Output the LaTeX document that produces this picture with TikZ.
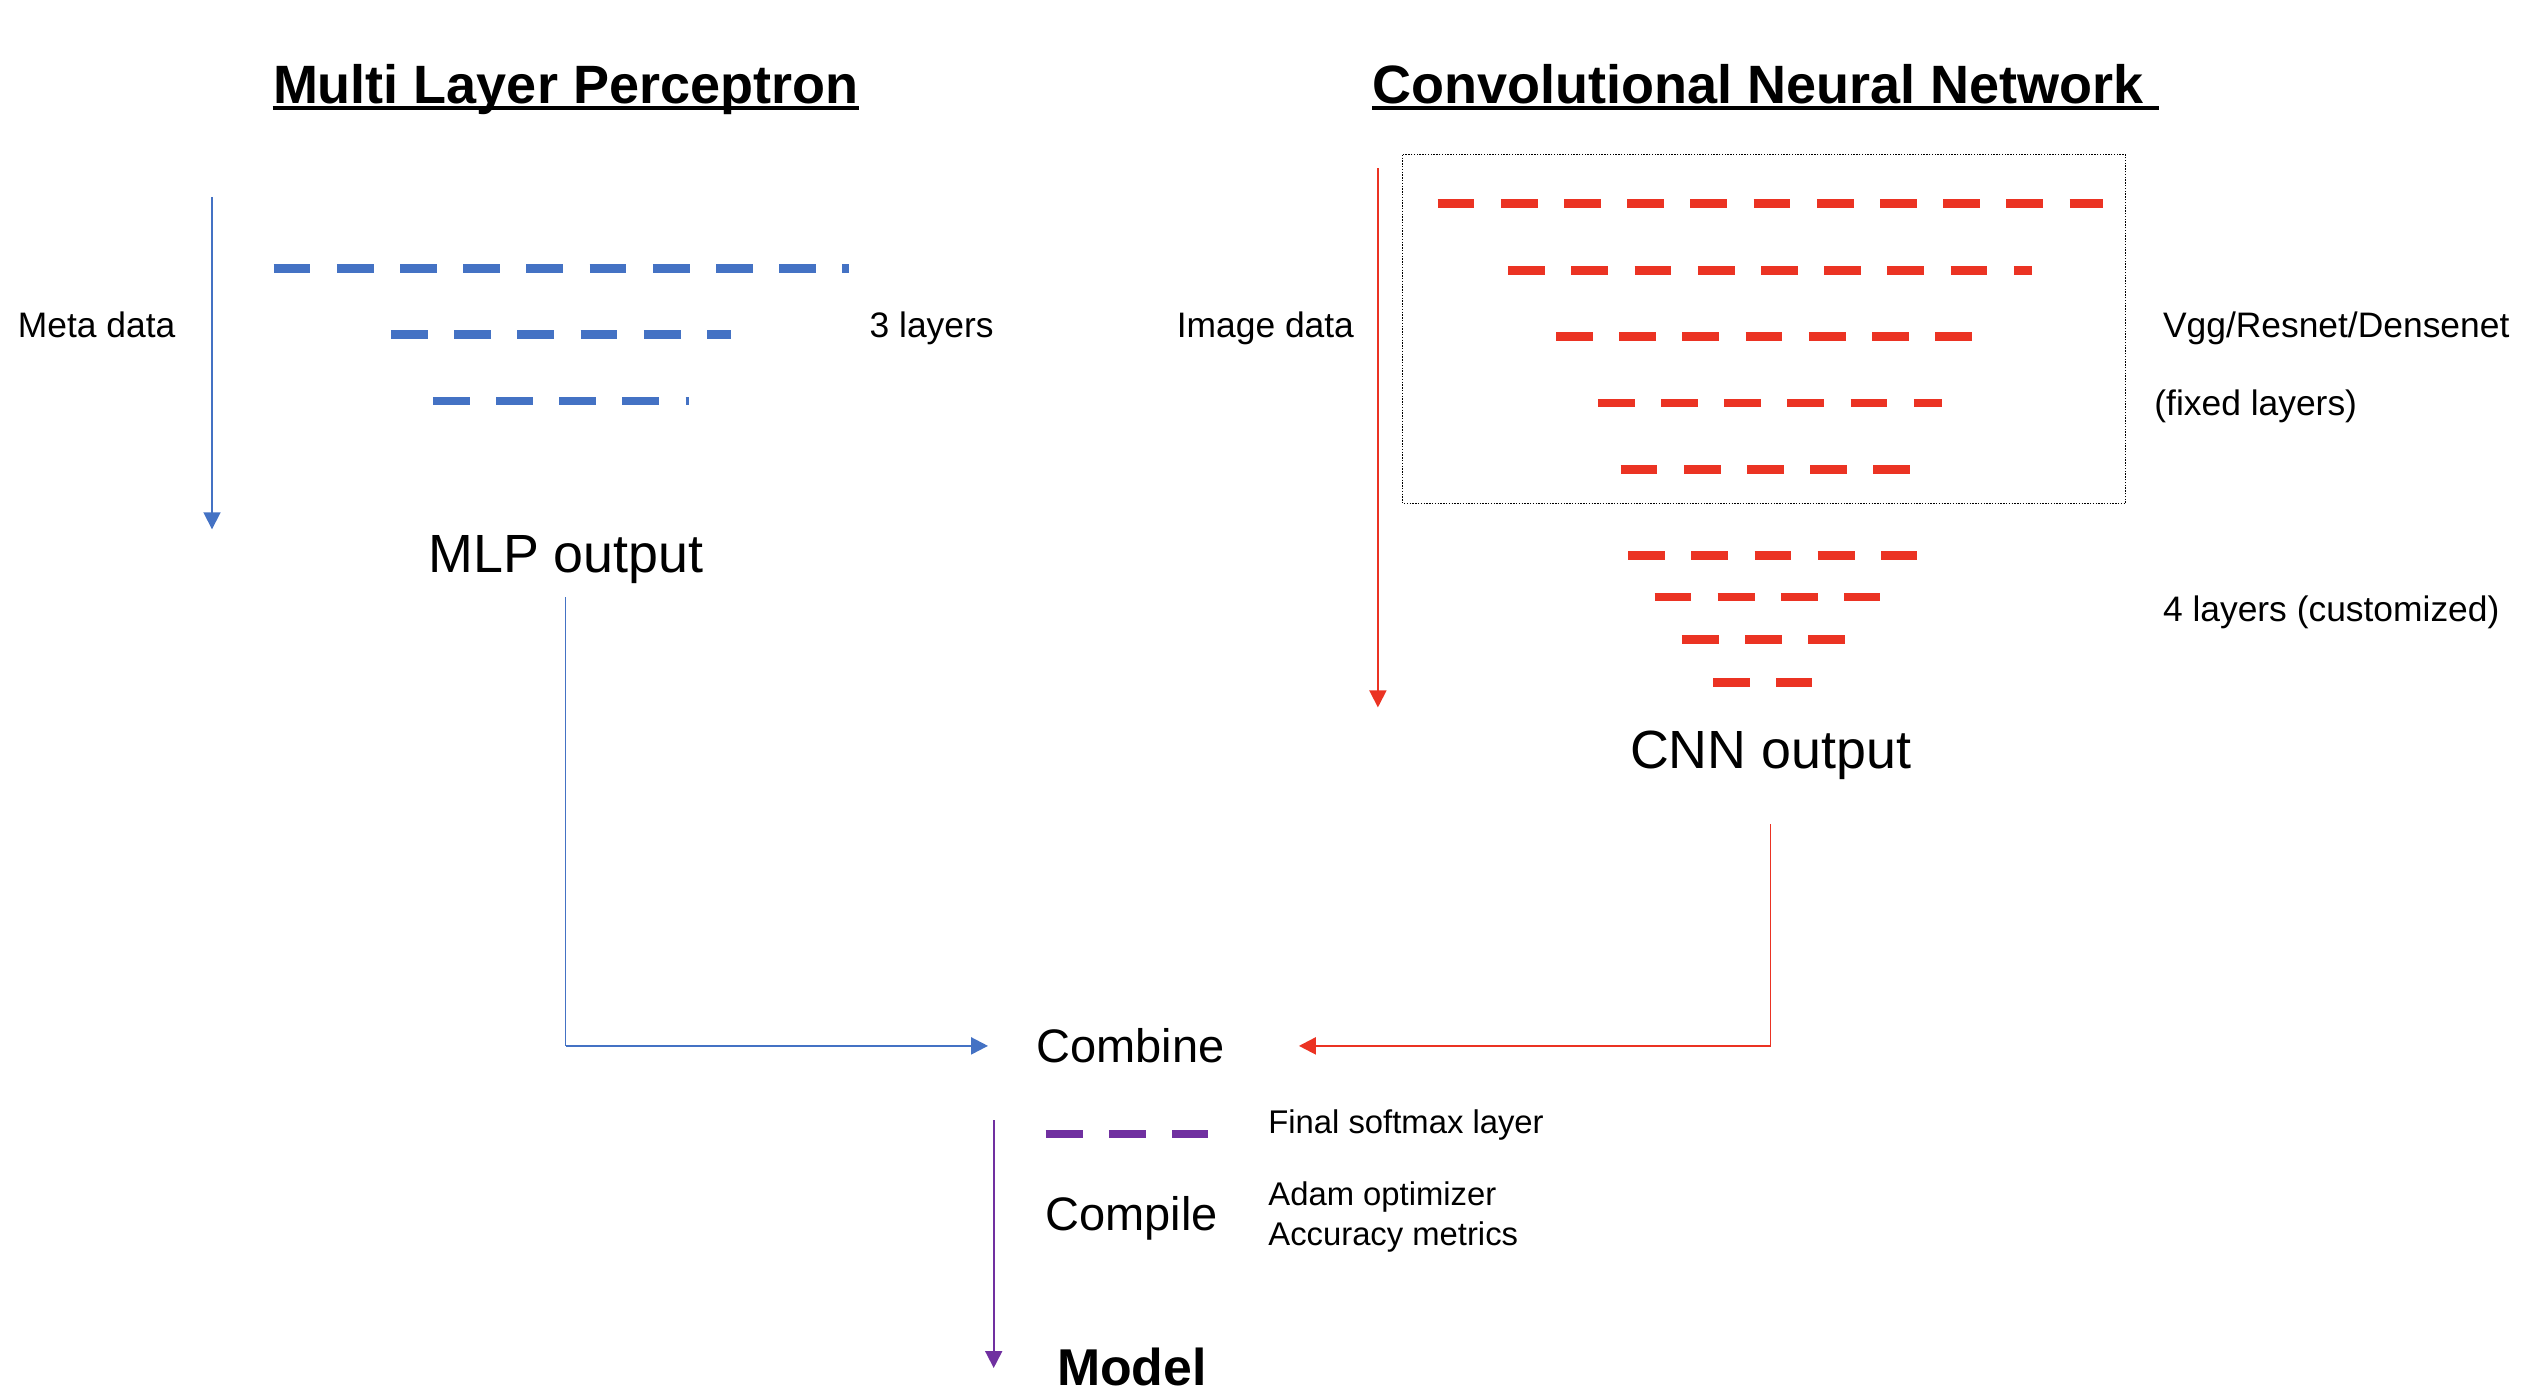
\documentclass[tikz,border=0pt]{standalone}
\usepackage{fontspec}
\setmainfont{Liberation Sans}
\usepackage{xcolor}
\usetikzlibrary{arrows.meta, positioning}

\definecolor{mlpblue}{HTML}{4472C4}
\definecolor{cnnred}{HTML}{EB3323}
\definecolor{headpurple}{HTML}{7030A0}

\tikzset{
  plain/.style={inner sep=0pt, anchor=base west},
  heading/.style={plain, font=\fontsize{27}{30}\selectfont\bfseries},
  note/.style={plain, font=\fontsize{17.7}{20}\selectfont},
  smallnote/.style={plain, font=\fontsize{16.4}{20}\selectfont},
  outtext/.style={plain, font=\fontsize{26.9}{30}\selectfont},
  stagetext/.style={plain, font=\fontsize{23.5}{28}\selectfont},
  dashlayer/.style={line width=4.4pt, dash pattern=on 18.4pt off 13.2pt},
  flow/.style={line width=0.9pt, ->},
}

\begin{document}
\begin{tikzpicture}[x=0.5pt, y=-0.5pt, >={Triangle[length=8.5pt, width=8.5pt]}]
    \useasboundingbox (0,0) rectangle (2530,1400);

    % titles
    \node[heading] (mlptitle) at (272.6,103.5) {Multi Layer Perceptron};
    \node[heading] (cnntitle) at (1371.9,103.5) {Convolutional Neural Network};
    \draw[line width=1.8pt] ([yshift=-2.3pt]mlptitle.base west) -- ([yshift=-2.3pt]mlptitle.base east);
    \draw[line width=1.8pt] ([yshift=-2.3pt]cnntitle.base west) -- ([yshift=-2.3pt, xshift=7.5pt]cnntitle.base east);

    % MLP side
    \node[note] (metadata) at (17.5,337.3) {Meta data};
    \node[note] (mlplayers) at (869.3,337.3) {3 layers};
    \node[outtext] (mlpout) at (427.9,572.1) {MLP output};
    \foreach \y/\a/\b in {268.7/273.6/848.7, 334.8/391/731.3, 401/432.8/688.5}
        \draw[dashlayer, mlpblue] (\a,\y) -- (\b,\y);
    \coordinate (metatop) at (212,197);
    \coordinate (metaend) at (212,529.3);
    \draw[flow, mlpblue] (metatop) -- (metaend);

    % CNN side
    \node[note] (imagedata) at (1176.4,337.3) {Image data};
    \node[note] (backbone) at (2162.6,337.3) {Vgg/Resnet/Densenet};
    \node[note] (fixed) at (2154,415.9) {(fixed layers)};
    \node[note] (custom) at (2162.6,621.5) {4 layers (customized)};
    \node[outtext] (cnnout) at (1629.6,768.1) {CNN output};
    \draw[line width=0.7pt, dash pattern=on 0.7pt off 0.7pt] (1402.7,154.8) rectangle (2125.6,503.5);
    \foreach \y/\a/\b in {203.5/1437.6/2102.7, 270.6/1508.2/2031.6, 336.3/1556/1971.5,
                          403/1597.8/1941.6, 469.2/1620.6/1910.8, 555.2/1628.1/1917.1,
                          597/1654.5/1879.9, 639.3/1681.8/1845.5, 682.2/1713.2/1812.2}
        \draw[dashlayer, cnnred] (\a,\y) -- (\b,\y);
    \coordinate (imagetop) at (1377.9,168.2);
    \coordinate (imageend) at (1377.9,707.4);
    \draw[flow, cnnred] (imagetop) -- (imageend);

    % head
    \node[stagetext] (combine) at (1036,1062.7) {Combine};
    \node[smallnote] (softmax) at (1268,1133) {Final softmax layer};
    \node[stagetext] (compile) at (1045,1230) {Compile};
    \node[smallnote] (adam) at (1268,1205) {Adam optimizer};
    \node[smallnote] (accuracy) at (1268,1245) {Accuracy metrics};
    \node[heading, font=\fontsize{25.9}{30}\selectfont\bfseries] (model) at (1056.7,1385) {Model};
    \draw[dashlayer, headpurple] (1045.7,1134) -- (1207.7,1134);
    \coordinate (headtop) at (993.7,1120);
    \coordinate (headend) at (993.7,1368);
    \draw[flow, headpurple] (headtop) -- (headend);

    % joining the two outputs
    \coordinate (mlpbend) at (mlpout.south |- combine.west);
    \coordinate (cnnbend) at (cnnout.south |- combine.east);
    \draw[mlpblue, line width=0.5pt, shorten <=6.8pt] (mlpout.south) -- (mlpbend);
    \draw[mlpblue, line width=1.15pt, ->, shorten >=24pt] (mlpbend) -- (combine.west);
    \draw[cnnred, line width=0.5pt, shorten <=22.2pt] (cnnout.south) -- (cnnbend);
    \draw[cnnred, line width=1.15pt, ->, shorten >=37pt] (cnnbend) -- (combine.east);
\end{tikzpicture}
\end{document}
